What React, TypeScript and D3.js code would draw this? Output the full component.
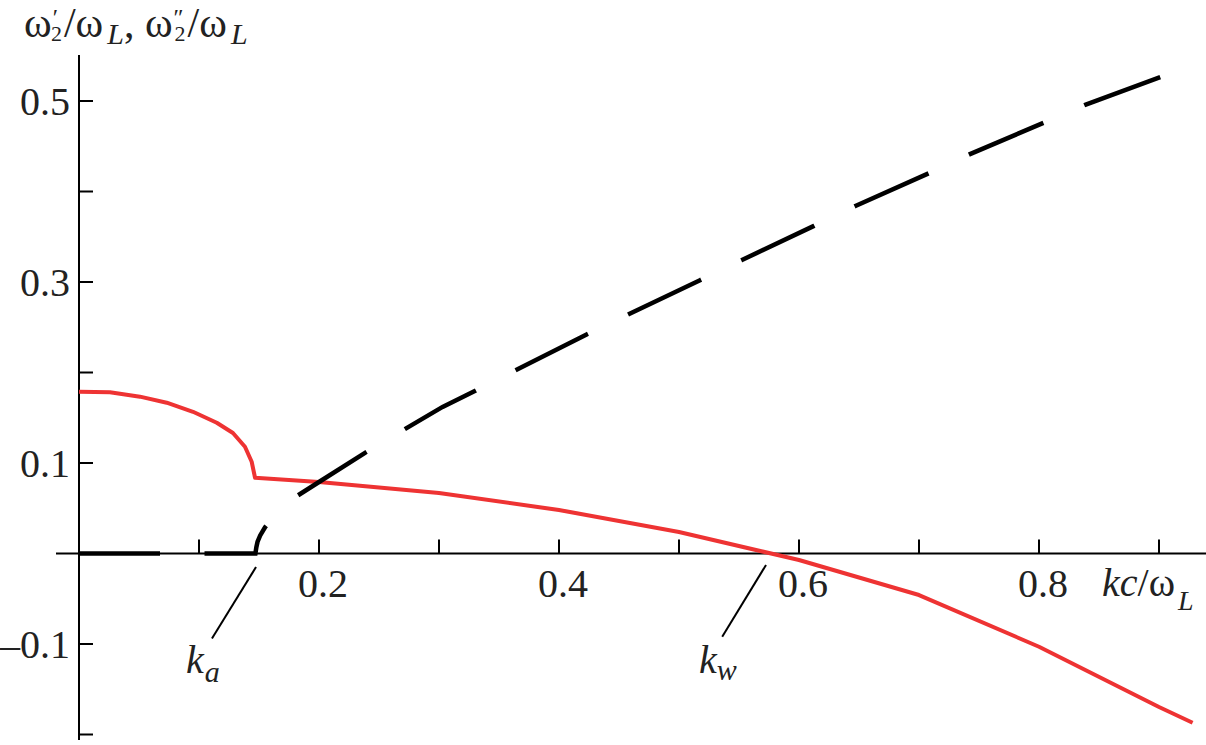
import * as React from "react";
import * as d3 from "d3";

// red curve: omega''_2 / omega_L
const redK = [0, 0.0258, 0.0508, 0.0731, 0.095, 0.1148, 0.1283, 0.1383, 0.1439, 0.1467, 0.2, 0.3, 0.4, 0.5, 0.6, 0.7, 0.8, 0.9, 0.928];
const redW = [0.1788, 0.1781, 0.1733, 0.1666, 0.1566, 0.1445, 0.1331, 0.118, 0.1014, 0.0837, 0.079, 0.0669, 0.048, 0.0238, -0.0072, -0.0459, -0.103, -0.1696, -0.187];

// black dashed curve: omega'_2 / omega_L
const blackK = [0, 0.147, 0.1478, 0.1488, 0.151, 0.155, 0.165, 0.181, 0.2, 0.238, 0.271, 0.303, 0.329, 0.363, 0.423, 0.4575, 0.5175, 0.552, 0.6125, 0.647, 0.708, 0.742, 0.804, 0.839, 0.9025];
const blackW = [0, 0, 0.007, 0.013, 0.02, 0.029, 0.045, 0.063, 0.079, 0.111, 0.137, 0.162, 0.179, 0.202, 0.242, 0.264, 0.302, 0.324, 0.362, 0.384, 0.42, 0.441, 0.476, 0.496, 0.527];

const xTicks = [0.1, 0.2, 0.3, 0.4, 0.5, 0.6, 0.7, 0.8, 0.9];
const xLabels = [0.2, 0.4, 0.6, 0.8];
const yTicks = [0.5, 0.4, 0.3, 0.2, 0.1, -0.1, -0.2];
const yLabels = [0.5, 0.3, 0.1, -0.1];

// annotation leader lines [k0, w0, k1, w1]
const kaLine = [0.1475, -0.0149, 0.1108, -0.094];
const kwLine = [0.5725, -0.0127, 0.536, -0.092];

const font = "Liberation Serif";

export default function App() {
  const width = 1206;
  const height = 745;

  const x = d3.scaleLinear().domain([0, 1]).range([79, 1279]);
  const y = d3.scaleLinear().domain([0, 0.5]).range([553.5, 101]);

  const line = d3
    .line<[number, number]>()
    .x(d => x(d[0]))
    .y(d => y(d[1]));

  const redPts = redK.map((k, i) => [k, redW[i]] as [number, number]);
  const blackPts = blackK.map((k, i) => [k, blackW[i]] as [number, number]);
  const fmt = (v: number) => (v < 0 ? "\u2013" : "") + Math.abs(v).toFixed(1);

  return (
    <svg width={width} height={height} style={{ position: "absolute", left: 0, top: 0, background: "#fff" }}>
      {/* axes */}
      <line x1={56} x2={1206} y1={y(0)} y2={y(0)} stroke="#000" strokeWidth={2} />
      <line x1={x(0)} x2={x(0)} y1={55} y2={740} stroke="#000" strokeWidth={2} />
      {xTicks.map(t => (
        <line key={"xt" + t} x1={x(t)} x2={x(t)} y1={y(0)} y2={y(0) - 14} stroke="#000" strokeWidth={2} />
      ))}
      {yTicks.map(t => (
        <line key={"yt" + t} x1={x(0)} x2={x(0) + 14} y1={y(t)} y2={y(t)} stroke="#000" strokeWidth={2} />
      ))}
      <g fontFamily={font} fill="#222">
        {xLabels.map(t => (
          <text key={"xl" + t} x={x(t) + 4} y={597} textAnchor="middle" fontSize={40}>
            {fmt(t)}
          </text>
        ))}
        {yLabels.map(t => (
          <text key={"yl" + t} x={70} y={y(t) + 13.5} textAnchor="end" fontSize={40}>
            {fmt(t)}
          </text>
        ))}
      </g>

      {/* curves */}
      <path d={line(redPts) || ""} fill="none" stroke="#ee3333" strokeWidth={4} strokeLinejoin="round" />
      <path d={line(blackPts) || ""} fill="none" stroke="#000" strokeWidth={4.5} strokeDasharray="81 44.5" />

      {/* annotations */}
      <line x1={x(kaLine[0])} y1={y(kaLine[1])} x2={x(kaLine[2])} y2={y(kaLine[3])} stroke="#000" strokeWidth={2} />
      <line x1={x(kwLine[0])} y1={y(kwLine[1])} x2={x(kwLine[2])} y2={y(kwLine[3])} stroke="#000" strokeWidth={2} />
      <g fontFamily={font} fill="#222" fontStyle="italic">
        <text x={186} y={673} fontSize={40}>
          k<tspan fontSize={30} dx={1} dy={9}>a</tspan>
        </text>
        <text x={699} y={673} fontSize={40}>
          k<tspan fontSize={30} dx={0} dy={7}>w</tspan>
        </text>
      </g>

      {/* axis titles */}
      <g fontFamily={font} fill="#222">
        <text x={1102} y={596} fontSize={40}>
          <tspan fontStyle="italic">kc</tspan>/ω
          <tspan fontStyle="italic" fontSize={28} dx={3} dy={14}>L</tspan>
        </text>
        <text x={24} y={37} fontSize={42}>
          ω<tspan fontSize={24} dx={1} dy={-12}>′</tspan>
          <tspan fontSize={22} dx={-7} dy={16}>2</tspan>
          <tspan dx={2} dy={-4}>/ω</tspan>
          <tspan fontStyle="italic" fontSize={30} dx={4} dy={7}>L</tspan>
          <tspan dy={-7}>, ω</tspan>
          <tspan fontSize={24} dx={1} dy={-12}>″</tspan>
          <tspan fontSize={22} dx={-9} dy={16}>2</tspan>
          <tspan dx={2} dy={-4}>/ω</tspan>
          <tspan fontStyle="italic" fontSize={30} dx={4} dy={7}>L</tspan>
        </text>
      </g>
    </svg>
  );
}
